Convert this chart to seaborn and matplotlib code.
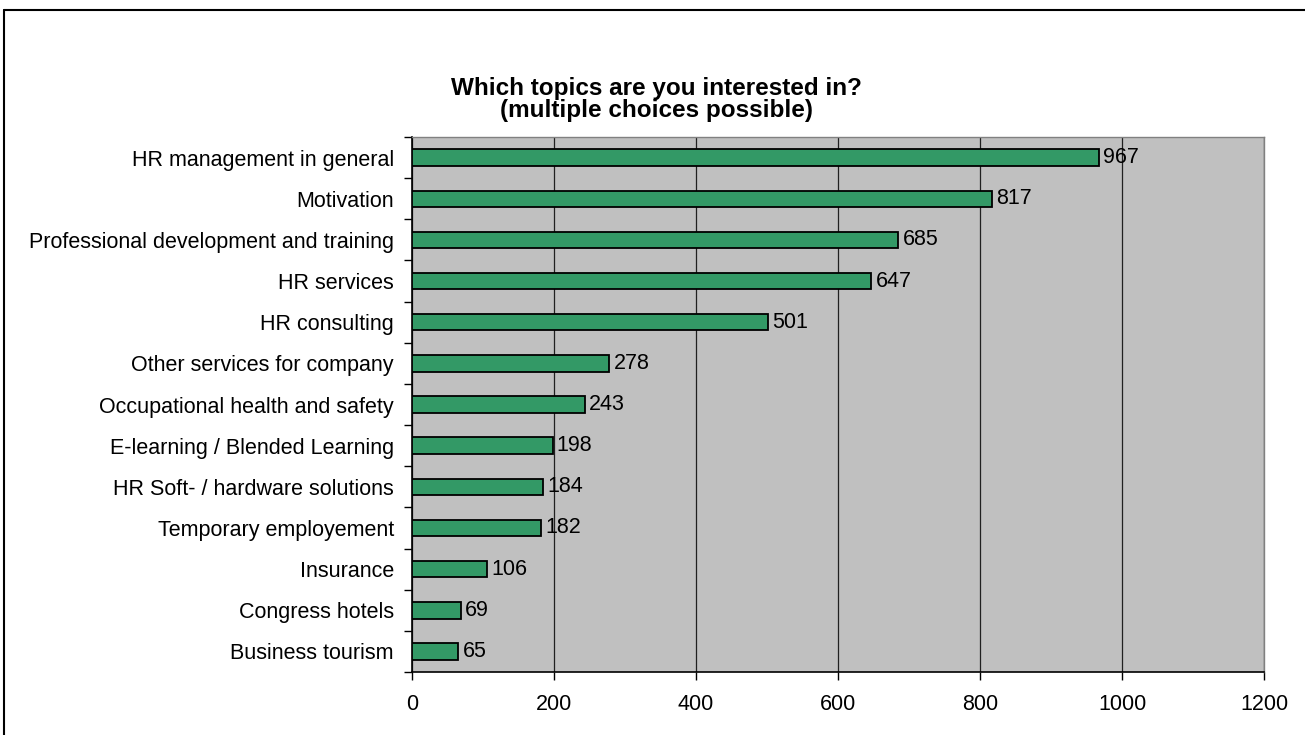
#libraries
import seaborn as sns
import pandas as pd
import matplotlib
matplotlib.use('Agg')
from matplotlib import pyplot as plt
from matplotlib.lines import Line2D

#data
topics=['HR management in general','Motivation','Professional development and training',
        'HR services','HR consulting','Other services for company',
        'Occupational health and safety','E-learning / Blended Learning',
        'HR Soft- / hardware solutions','Temporary employement','Insurance',
        'Congress hotels','Business tourism']
counts=[967,817,685,647,501,278,243,198,184,182,106,69,65]
xticks=[0,200,400,600,800,1000,1200]

df=pd.DataFrame({'topic':topics,'count':counts})

sns.set_style('white')
plt.rcParams['font.family']=['Liberation Sans','DejaVu Sans']
plt.rcParams['text.color']='black'
plt.rcParams['xtick.color']='black'
plt.rcParams['ytick.color']='black'

fig=plt.figure(figsize=(13.05,7.35),dpi=100)
ax=fig.add_axes([0.3157,0.0857,0.6529,0.7279])
ax.set_facecolor('#c0c0c0')

sns.barplot(data=df,y='topic',x='count',orient='h',color='#339966',
            saturation=1,width=0.4,edgecolor='black',linewidth=1.3,ax=ax,zorder=3)

#value labels
for i,v in enumerate(counts):
    ax.text(v+6,i,str(v),va='center',ha='left',fontsize=15.5,color='black',zorder=4)

ax.set_xlim(0,1200)
ax.set_ylim(len(topics)-0.5,-0.5)
ax.set_xticks(xticks)
ax.set_xticklabels([str(t) for t in xticks],fontsize=15.5)
ax.xaxis.grid(True,color='#202020',linewidth=0.9,zorder=1)
ax.set_axisbelow(True)
ax.set_xlabel('')
ax.set_ylabel('')

#y ticks sit between categories, labels at centres
ax.set_yticks(range(len(topics)))
ax.set_yticklabels(topics,fontsize=15.5)
ax.tick_params(axis='y',which='major',left=True,length=0,pad=13,labelcolor='black')
ax.set_yticks([i-0.5 for i in range(len(topics)+1)],minor=True)
ax.tick_params(axis='y',which='minor',left=True,length=6,width=1,color='black',direction='out')
ax.tick_params(axis='x',which='major',bottom=True,length=6,width=1,color='black',direction='out',pad=10,labelcolor='black')

for s in ['top','right']:
    ax.spines[s].set_color('#808080')
    ax.spines[s].set_linewidth(1)
for s in ['left','bottom']:
    ax.spines[s].set_color('black')
    ax.spines[s].set_linewidth(1.2)

fig.text(0.503,0.880,'Which topics are you interested in?',ha='center',va='center',
         fontsize=17.5,fontweight='bold',color='black')
fig.text(0.503,0.849,'(multiple choices possible)',ha='center',va='center',
         fontsize=17.5,fontweight='bold',color='black')

#outer frame (runs off the right and bottom edges)
W,H=1305,735
fig.add_artist(Line2D([4/W,1.0],[1-10/H,1-10/H],color='black',linewidth=1.5,transform=fig.transFigure))
fig.add_artist(Line2D([4/W,4/W],[0.0,1-10/H],color='black',linewidth=1.5,transform=fig.transFigure))

fig.savefig('out.png',dpi=100)
